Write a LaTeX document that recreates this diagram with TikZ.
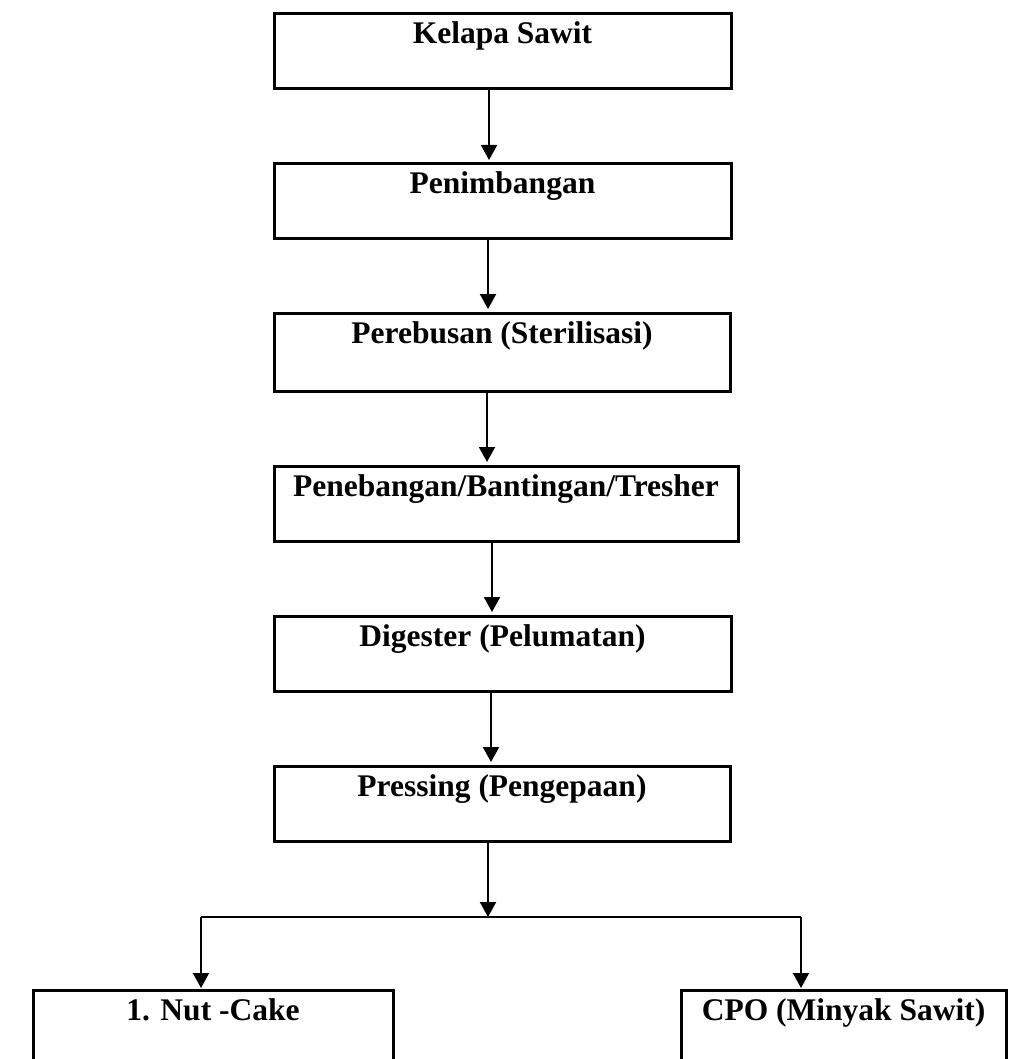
\documentclass[tikz,border=0pt]{standalone}
\usepackage{fontspec}
\setmainfont{Liberation Serif}
\usetikzlibrary{arrows.meta}

\tikzset{
  proses/.style={draw, line width=3pt, rectangle, anchor=north, inner sep=0pt, outer sep=0pt,
    text height=30pt, text depth=45pt, font=\fontsize{31.5}{36}\selectfont\bfseries},
  panah/.style={line width=2pt, -{Triangle[width=16pt,length=15pt]}},
}

\begin{document}
\begin{tikzpicture}[x=1pt, y=-1pt]
    \useasboundingbox (0,0) rectangle (1032,1059);

    % Process boxes
    \node[proses, minimum width=457pt] (kelapa) at (502.5,14) {Kelapa Sawit};
    \node[proses, minimum width=457pt] (timbang) at (502.5,164) {Penimbangan};
    \node[proses, minimum width=456pt, text depth=48pt] (rebus) at (502,313) {Perebusan (Sterilisasi)};
    \node[proses, minimum width=464pt] (banting) at (506,466) {Penebangan/Bantingan/Tresher};
    \node[proses, minimum width=457pt] (digester) at (502.5,616) {Digester (Pelumatan)};
    \node[proses, minimum width=456pt] (press) at (502,766) {Pressing (Pengepaan)};

    % Products
    \node[proses, minimum width=360pt] (nut) at (213,990) {1. Nut -Cake};
    \node[proses, minimum width=325pt] (cpo) at (843.5,990) {CPO (Minyak Sawit)};

    % Flow down
    \draw[panah, shorten >=4pt] ([xshift=-13.5pt]kelapa.south) -- ([xshift=-13.5pt]kelapa.south |- timbang.north);
    \draw[panah, shorten >=4pt] ([xshift=-14.5pt]timbang.south) -- ([xshift=-14.5pt]timbang.south |- rebus.north);
    \draw[panah, shorten >=4pt] ([xshift=-15pt]rebus.south) -- ([xshift=-15pt]rebus.south |- banting.north);
    \draw[panah, shorten >=4pt] ([xshift=-14pt]banting.south) -- ([xshift=-14pt]banting.south |- digester.north);
    \draw[panah, shorten >=4pt] ([xshift=-11.5pt]digester.south) -- ([xshift=-11.5pt]digester.south |- press.north);

    % Split to products
    \coordinate (cabang) at (488,917);
    \coordinate (kiri) at (201,917);
    \coordinate (kanan) at (801,917);
    \draw[panah] ([xshift=-14pt]press.south) -- (cabang);
    \draw[line width=2pt] (kiri) -- (kanan);
    \draw[panah, shorten >=2pt] (kiri) -- (kiri |- nut.north);
    \draw[panah, shorten >=2pt] (kanan) -- (kanan |- cpo.north);

\end{tikzpicture}
\end{document}
